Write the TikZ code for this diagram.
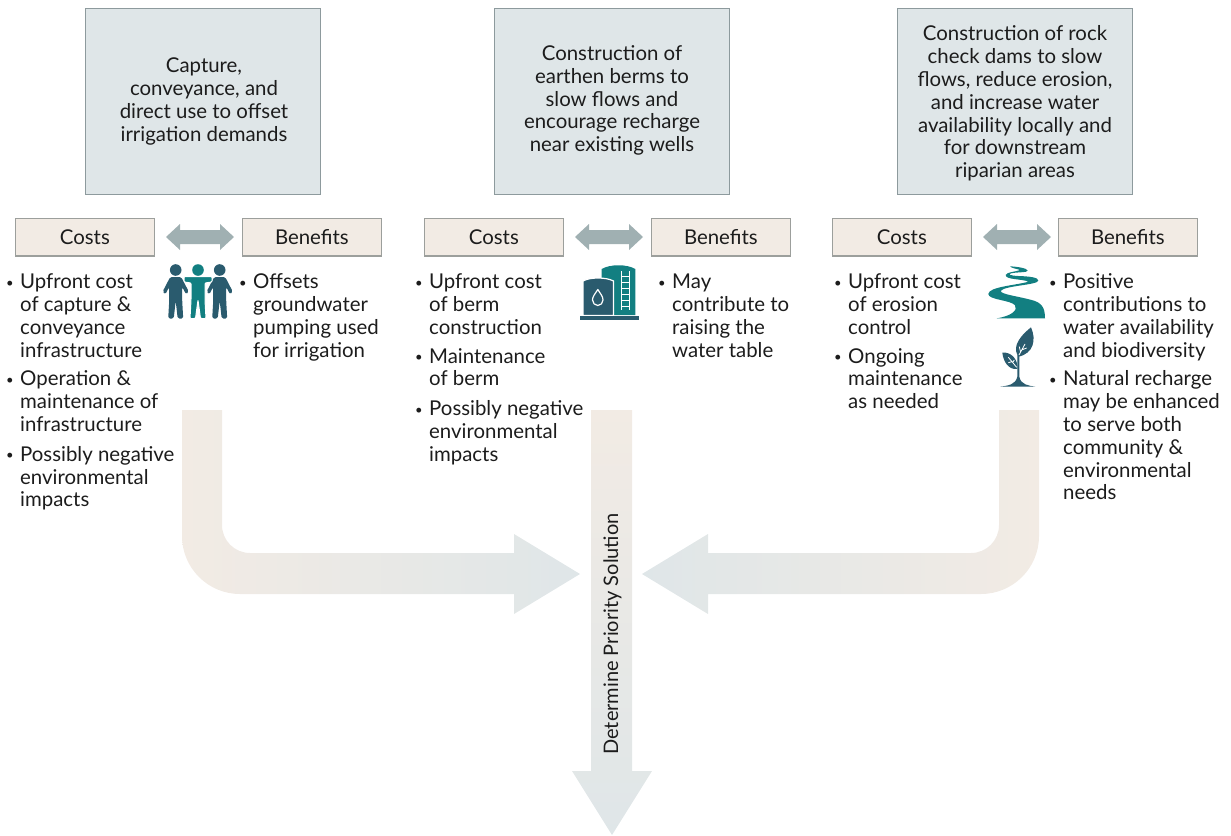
\documentclass[tikz,border=0pt]{standalone}
\usepackage{fontspec}
\setmainfont{Lato}
\definecolor{inkc}{HTML}{1C1C1C}
\definecolor{topfill}{HTML}{DFE6E8}
\definecolor{topline}{HTML}{8D9A9D}
\definecolor{tagfill}{HTML}{F2EBE4}
\definecolor{tagline}{HTML}{9C9F9C}
\definecolor{dblc}{HTML}{A0B0B2}
\definecolor{dark}{HTML}{2A5B6E}
\definecolor{teal2}{HTML}{127F81}
\tikzset{
  x=1pt,y=-1pt,
  topbox/.style={draw=topline,line width=1.1pt,fill=topfill,minimum width=235.6pt,minimum height=186.6pt,inner sep=0pt,anchor=north west},
  toptext/.style={text=inkc,align=center,font=\fontsize{20.4}{22.8}\selectfont,inner sep=0pt,anchor=center},
  tagbox/.style={draw=tagline,line width=1.1pt,fill=tagfill,minimum width=138.6pt,minimum height=37.6pt,inner sep=0pt,anchor=north west,text=inkc,font=\fontsize{20.4}{22.8}\selectfont},
  listtext/.style={text=inkc,align=left,font=\fontsize{20.4}{22.8}\selectfont,inner sep=0pt,anchor=north west},
  dbl/.pic={\fill[dblc] (-34,0)--(-20,-13)--(-20,-7)--(20,-7)--(20,-13)--(34,0)--(20,13)--(20,7)--(-20,7)--(-20,13)--cycle;}
}
\newcommand{\itm}{\leavevmode\llap{\raisebox{1.5pt}{\fontsize{13}{13}\selectfont\textbullet}\hspace{6.5pt}}}
\newcommand{\sideperson}[2]{%
  \fill[dark] (#1,#2) circle (5.8);
  \fill[dark,rounded corners=1.6pt] (#1-5.5,#2+7)--(#1-13,#2+21.5)--(#1-10.5,#2+24.5)--(#1-6.5,#2+17)--(#1-6.5,#2+31)--(#1-7.5,#2+48.5)--(#1-2,#2+48.5)--(#1,#2+31)--(#1+2,#2+48.5)--(#1+7.5,#2+48.5)--(#1+6.5,#2+31)--(#1+6.5,#2+17)--(#1+10.5,#2+24.5)--(#1+13,#2+21.5)--(#1+5.5,#2+7)--cycle;}
\begin{document}
\begin{tikzpicture}
\useasboundingbox (0,0) rectangle (1231,835);
% big arrows
\shade[left color=tagfill,right color=topfill]
  (182,410)--(222,410)--(222,525) arc[start angle=180,end angle=90,radius=28]
  --(514,553)--(514,534)--(580,574)--(514,614)--(514,594)--(240,594)
  arc[start angle=90,end angle=180,radius=58]--cycle;
\shade[left color=topfill,right color=tagfill]
  (1039,410)--(999,410)--(999,525) arc[start angle=0,end angle=90,radius=28]
  --(708,553)--(708,534)--(642,574)--(708,614)--(708,594)--(981,594)
  arc[start angle=90,end angle=0,radius=58]--cycle;
\shade[top color=tagfill,bottom color=topfill]
  (591,410)--(632,410)--(632,771)--(652,771)--(612,835)--(572,771)--(591,771)--cycle;
\node[text=inkc,font=\fontsize{20}{22.8}\selectfont,rotate=90,inner sep=0pt] (decide) at (612.5,634) {Determine Priority Solution};
% top boxes
\node[topbox] (t1) at (84.6,7.6) {};
\node[topbox] (t2) at (493.6,7.6) {};
\node[topbox] (t3) at (896.6,7.6) {};
\node[toptext] (t1x) at (204,101.5) {Capture,\\conveyance, and\\direct use to offset\\irrigation demands};
\node[toptext] (t2x) at (612,100.5) {Construction of\\earthen berms to\\slow flows and\\encourage recharge\\near existing wells};
\node[toptext] (t3x) at (1015,103.5) {Construction of rock\\check dams to slow\\flows, reduce erosion,\\and increase water\\availability locally and\\for downstream\\riparian areas};
% tags
\node[tagbox] (c1) at (15,217.8) {Costs};
\node[tagbox] (b1) at (242,217.8) {Benefits};
\node[tagbox] (c2) at (424,217.8) {Costs};
\node[tagbox] (b2) at (651,217.8) {Benefits};
\node[tagbox] (c3) at (832,217.8) {Costs};
\node[tagbox] (b3) at (1058,217.8) {Benefits};
\pic at (200,237) {dbl};
\pic at (609,237) {dbl};
\pic at (1017,237) {dbl};
% lists
\node[listtext] (l1) at (20,272.5) {\itm\strut Upfront cost\\of capture \&\\conveyance\\infrastructure\\[6pt]\itm Operation \&\\maintenance of\\infrastructure\\[7pt]\itm Possibly negative\\environmental\\impacts};
\node[listtext] (r1) at (253,272.5) {\itm\strut Offsets\\groundwater\\pumping used\\for irrigation};
\node[listtext] (l2) at (429,272.5) {\itm\strut Upfront cost\\of berm\\construction\\[6pt]\itm Maintenance\\of berm\\[7pt]\itm Possibly negative\\environmental\\impacts};
\node[listtext] (r2) at (672,272.5) {\itm\strut May\\contribute to\\raising the\\water table};
\node[listtext] (l3) at (848,272.5) {\itm\strut Upfront cost\\of erosion\\control\\[6pt]\itm Ongoing\\maintenance\\as needed};
\node[listtext] (r3) at (1063,272.5) {\itm\strut Positive\\contributions to\\water availability\\and biodiversity\\[6pt]\itm Natural recharge\\may be enhanced\\to serve both\\community \&\\environmental\\needs};
% people icon
\sideperson{175.7}{270}
\sideperson{219.7}{270}
\fill[teal2] (198,270) circle (5.8);
\fill[teal2,draw=white,line width=1pt,rounded corners=1pt] (184,276.5)--(212,276.5)--(212,282)--(205,283)--(205,300)--(206,318.5)--(200.5,318.5)--(198,300)--(195.5,318.5)--(190,318.5)--(191,300)--(191,283)--(184,282)--cycle;
% tank icon
\fill[teal2] (601.7,315) -- (601.7,269) .. controls (610,264) and (627,264) .. (635.3,269) -- (635.3,315) -- cycle;
\draw[white,line width=1pt] (621.5,271)--(621.5,310) (629,271)--(629,310);
\foreach \yy in {276,282,288,294,300,306} \draw[white,line width=1pt] (621.5,\yy)--(629,\yy);
\fill[dark,draw=white,line width=1.2pt] (583,315.5) -- (583,281) .. controls (590,277) and (606,277) .. (613.5,281) -- (613.5,315.5) -- cycle;
\fill[dark] (580,316) rectangle (639,319.5);
\draw[white,line width=1.2pt,line join=round] (597.8,289.5) .. controls (595,294) and (592.5,296.5) .. (592.5,300) .. controls (592.5,303) and (595,305.5) .. (597.8,305.5) .. controls (600.6,305.5) and (603,303) .. (603,300) .. controls (603,296.5) and (600.6,294) .. (597.8,289.5) -- cycle;
% river icon
\begin{scope}[shift={(975,220)},x=0.3333pt,y=-0.3333pt]
\fill[teal2] (105,139) .. controls (128,140) and (158,145) .. (158,152)
  .. controls (158,158) and (125,156) .. (108,160)
  .. controls (98,163) and (105,167) .. (130,168)
  .. controls (160,169) and (192,172) .. (190,182)
  .. controls (188,195) and (90,197) .. (78,212)
  .. controls (72,222) and (125,228) .. (170,240)
  .. controls (200,248) and (210,262) .. (210,295)
  -- (65,295)
  .. controls (110,288) and (130,270) .. (120,256)
  .. controls (108,240) and (40,240) .. (40,222)
  .. controls (40,200) and (130,195) .. (160,185)
  .. controls (140,176) and (92,180) .. (92,165)
  .. controls (94,156) and (125,155) .. (135,150)
  .. controls (125,146) and (110,145) .. (105,139) -- cycle;
% plant icon
\fill[dark] (75,500) .. controls (100,497) and (122,494) .. (127,470) -- (127,405) -- (133,405) -- (133,470) .. controls (137,494) and (160,497) .. (181,500) -- cycle;
\fill[dark] (168,322) .. controls (185,360) and (175,400) .. (131,410) .. controls (115,390) and (120,360) .. (168,322) -- cycle;
\fill[dark] (82,398) .. controls (110,395) and (130,420) .. (127,447) .. controls (100,450) and (85,425) .. (82,398) -- cycle;
\draw[white,line width=0.8pt] (132,405) -- (150,372) (140,390)--(155,384) (137,397)--(133,380);
\draw[white,line width=0.8pt] (125,442) -- (100,412) (113,427)--(118,420) (111,425)--(100,428);
\end{scope}
\end{tikzpicture}
\end{document}
